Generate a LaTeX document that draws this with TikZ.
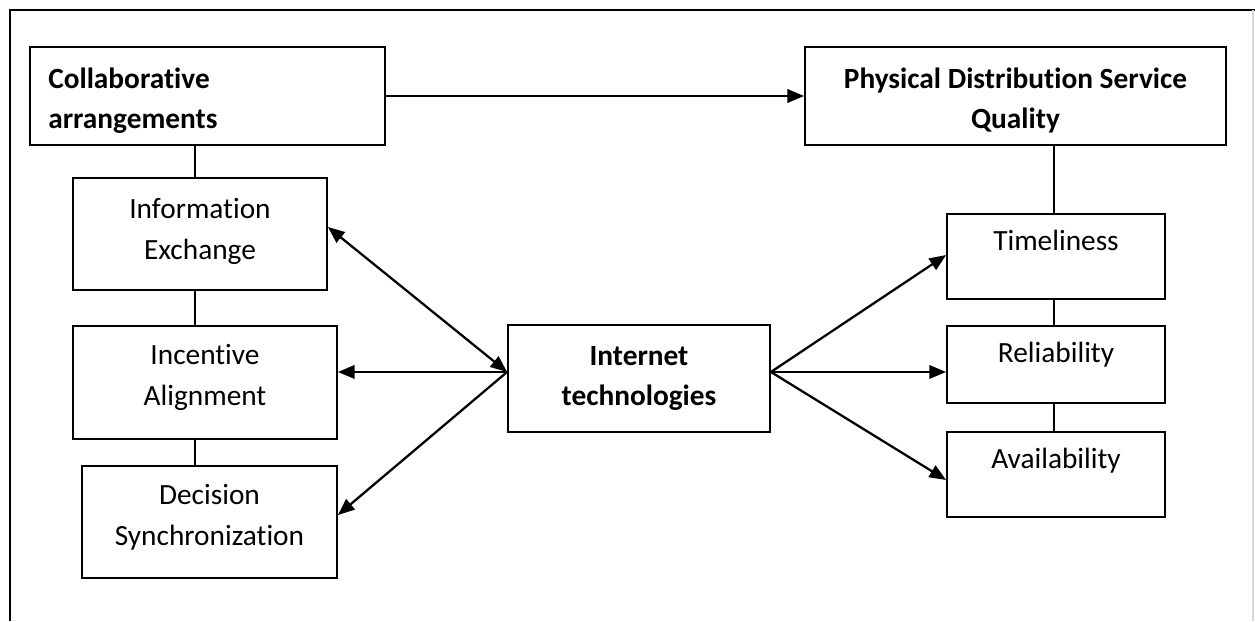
\documentclass[tikz,border=0pt]{standalone}
\usepackage{fontspec}
\setmainfont{Carlito}[RawFeature=-liga]
\usetikzlibrary{arrows.meta,fit,calc}
\begin{document}
\begin{tikzpicture}[x=0.75pt,y=-0.75pt,
  box/.style={draw, line width=1.35pt, inner sep=0pt},
  lbl/.style={font=\fontsize{22pt}{30.75pt}\selectfont, align=center, inner sep=0pt},
  blbl/.style={lbl, font=\fontsize{22pt}{30pt}\selectfont\bfseries},
  conn/.style={line width=1.2pt},
  tip/.tip={Triangle[length=12.5pt,width=10pt]},
  arr/.style={line width=1.7pt, -tip},
  darr/.style={line width=1.7pt, tip-tip},
  frame/.style={line width=1.6pt},
]
\useasboundingbox (0,0) rectangle (1255,621);
% outer frame
\draw[frame] (10,621) -- (10,10) -- (1255,10);
\draw[gray!30, line width=1pt] (1253,10) -- (1253,621);

% boxes
\node[box, fit={(30,47)(385,145)}] (collab) {};
\node[blbl, align=left, anchor=west] (collabT) at (48,101) {Collaborative\\arrangements};
\node[box, fit={(805,47)(1226,145)}] (phys) {};
\node[blbl] (physT) at (1015.5,101) {Physical Distribution Service\\Quality};

\node[box, fit={(73,178)(327,290)}] (info) {};
\node[lbl] (infoT) at (200,231.5) {Information\\Exchange};
\node[box, fit={(73,326)(337,439)}] (inc) {};
\node[lbl] (incT) at (205,377.5) {Incentive\\Alignment};
\node[box, fit={(82,466)(337,578)}] (dec) {};
\node[lbl] (decT) at (209.5,517.5) {Decision\\Synchronization};

\node[box, fit={(508,325)(770,432)}] (inet) {};
\node[blbl] (inetT) at (639,378) {Internet\\technologies};

\node[box, fit={(947,214)(1165,299)}] (tim) {};
\node[lbl, anchor=base] (timT) at (1056,250) {Timeliness};
\node[box, fit={(947,326)(1165,403)}] (rel) {};
\node[lbl, anchor=base] (relT) at (1056,362) {Reliability};
\node[box, fit={(947,432)(1165,517)}] (ava) {};
\node[lbl, anchor=base] (avaT) at (1056,468) {Availability};

% vertical connectors
\coordinate (lv) at (195,0);
\coordinate (rv) at (1054,0);
\draw[conn] (lv |- collab.south) -- (lv |- info.north);
\draw[conn] (lv |- info.south) -- (lv |- inc.north);
\draw[conn] (lv |- inc.south) -- (lv |- dec.north);
\draw[conn] (rv |- phys.south) -- (rv |- tim.north);
\draw[conn] (rv |- tim.south) -- (rv |- rel.north);
\draw[conn] (rv |- rel.south) -- (rv |- ava.north);

% arrows
\draw[arr] (collab.east) -- (phys.west);
\coordinate (hl) at ([yshift=4.9pt]inet.west);
\coordinate (hr) at ([yshift=4.9pt]inet.east);
\draw[darr] (hl) -- ([yshift=5.25pt]info.east);
\draw[arr] (hl) -- (hl -| inc.east);
\draw[arr] (hl) -- ([yshift=5.25pt]dec.east);
\draw[arr] (hr) -- ([yshift=1.1pt]tim.west);
\draw[arr] (hr) -- (hr -| rel.west);
\draw[arr] (hr) -- ([yshift=-4.1pt]ava.west);
\end{tikzpicture}
\end{document}
